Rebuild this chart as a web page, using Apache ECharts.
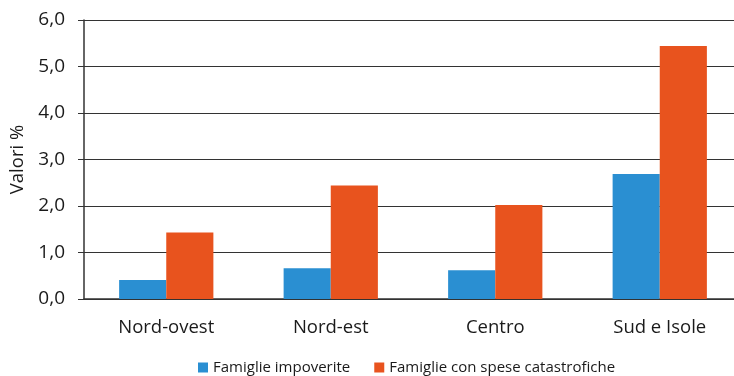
<!DOCTYPE html>
<html>
<head>
<meta charset="utf-8">
<script src="https://cdn.jsdelivr.net/npm/echarts@6/dist/echarts.min.js"></script>
<style>html,body{margin:0;padding:0;background:#fff;overflow:hidden;width:734px;height:376px}#c{width:742px;height:376px}</style>
</head>
<body>
<div id="c"></div>
<script>
var categories = ["Nord-ovest", "Nord-est", "Centro", "Sud e Isole"];
var impoverite = [0.41, 0.66, 0.62, 2.69];
var catastrofiche = [1.43, 2.44, 2.02, 5.44];
var seriesNames = ["Famiglie impoverite", "Famiglie con spese catastrofiche"];
var yTicks = [0, 1, 2, 3, 4, 5, 6];

var font = "'Open Sans', Lato, sans-serif";
var chart = echarts.init(document.getElementById('c'), null, {renderer: 'canvas'});
chart.setOption({
  animation: false,
  textStyle: {fontFamily: font, color: '#1a1a1a'},
  grid: {left: 84, right: 0, top: 20, bottom: 77},
  legend: {
    top: 355, left: 193,
    itemWidth: 10, itemHeight: 10, itemGap: 24,
    icon: 'rect',
    textStyle: {fontFamily: font, fontSize: 15, color: '#1a1a1a'},
    data: seriesNames
  },
  xAxis: {
    type: 'category',
    data: categories,
    axisLine: {show: true, lineStyle: {color: '#333', width: 1.5}},
    axisTick: {show: false},
    axisLabel: {fontFamily: font, fontSize: 18.5, color: '#1a1a1a', margin: 19}
  },
  yAxis: {
    type: 'value',
    min: yTicks[0], max: yTicks[yTicks.length - 1], interval: 1,
    name: 'Valori %',
    nameLocation: 'middle',
    nameGap: 52,
    nameRotate: 90,
    nameTextStyle: {fontFamily: font, fontSize: 18.5, color: '#1a1a1a'},
    axisLine: {show: true, lineStyle: {color: '#333', width: 1.5}},
    axisTick: {show: true, inside: false, length: 6, lineStyle: {color: '#333'}},
    axisLabel: {fontFamily: font, fontSize: 19, color: '#1a1a1a', margin: 19,
      formatter: function (v) { return v.toFixed(1).replace('.', ','); }},
    splitLine: {show: true, lineStyle: {color: '#333', width: 1}}
  },
  series: [
    {name: seriesNames[0], type: 'bar', data: impoverite, barGap: '0%', barCategoryGap: '42.7%',
     itemStyle: {color: '#2A8FD2'}},
    {name: seriesNames[1], type: 'bar', data: catastrofiche, barGap: '0%', barCategoryGap: '42.7%',
     itemStyle: {color: '#E8531E'}}
  ]
});
</script>
</body>
</html>
